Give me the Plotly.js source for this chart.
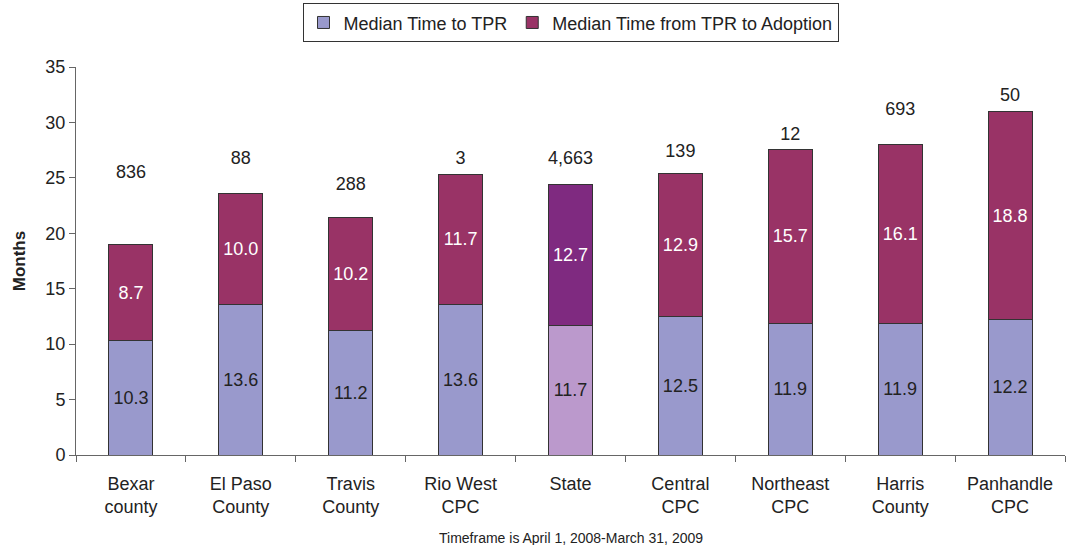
<!DOCTYPE html>
<html><head><meta charset="utf-8">
<script src="https://cdn.plot.ly/plotly-3.0.1.min.js"></script>
<style>body{margin:0;background:#fff}#c{width:1069px;height:545px}</style>
</head><body><div id="c"></div>
<script>
const categories = ["Bexar<br>county","El Paso<br>County","Travis<br>County","Rio West<br>CPC","State","Central<br>CPC","Northeast<br>CPC","Harris<br>County","Panhandle<br>CPC"];
const timeToTPR = [10.3,13.6,11.2,13.6,11.7,12.5,11.9,11.9,12.2];
const tprToAdoption = [8.7,10.0,10.2,11.7,12.7,12.9,15.7,16.1,18.8];
const counts = ["836","88","288","3","4,663","139","12","693","50"];
const countLabelY = [25.4,26.7,24.3,26.7,26.7,27.3,28.8,31.1,32.3];

const blue = "#9999CC", maroon = "#993366", stateLight = "#BB99CC", stateDark = "#7F2A80";
const lowColors = categories.map(c => c === "State" ? stateLight : blue);
const highColors = categories.map(c => c === "State" ? stateDark : maroon);
const font = "Liberation Sans, Arial, sans-serif";

const traces = [
  {type:"bar", name:"Median Time to TPR", x:categories, y:timeToTPR, width:0.4,
   marker:{color:lowColors, line:{color:"#333", width:1}},
   texttemplate:"%{y:.1f}", textposition:"inside", insidetextanchor:"middle",
   textfont:{color:"#222", size:18, family:font}, hoverinfo:"skip"},
  {type:"bar", name:"Median Time from TPR to Adoption", x:categories, y:tprToAdoption, width:0.4,
   marker:{color:highColors, line:{color:"#333", width:1}},
   texttemplate:"%{y:.1f}", textposition:"inside", insidetextanchor:"middle",
   textfont:{color:"#fff", size:18, family:font}, hoverinfo:"skip"},
  {type:"scatter", mode:"text", x:categories, y:countLabelY, text:counts, showlegend:false,
   textfont:{color:"#222", size:18, family:font}, hoverinfo:"skip"}
];

const layout = {
  width:1069, height:545,
  margin:{l:76, r:4, t:67, b:90, autoexpand:false},
  barmode:"stack",
  paper_bgcolor:"#fff", plot_bgcolor:"#fff",
  font:{family:font, color:"#222", size:18},
  showlegend:true,
  legend:{orientation:"h", x:0.5, xanchor:"center", yref:"container", y:0.994, yanchor:"top",
    bordercolor:"#333", borderwidth:1, font:{size:18, family:font}, traceorder:"normal",
    itemwidth:30, tracegroupgap:0},
  xaxis:{type:"category", tickson:"boundaries", ticks:"outside", ticklen:6, tickcolor:"#666",
    showline:true, linecolor:"#666", linewidth:1, showgrid:false, tickfont:{size:18},
    ticklabelstandoff:12},
  yaxis:{range:[0,35], dtick:5, ticks:"outside", ticklen:6, tickcolor:"#666",
    showline:true, linecolor:"#666", linewidth:1, showgrid:false, zeroline:false,
    tickfont:{size:18}, title:{text:"<b>Months</b>", font:{size:17}, standoff:15}},
  annotations:[{text:"Timeframe is April 1, 2008-March 31, 2009", xref:"paper", yref:"paper",
    x:0.5, y:-0.215, xanchor:"center", yanchor:"middle", showarrow:false, font:{size:14}}]
};
Plotly.newPlot("c", traces, layout, {displayModeBar:false, staticPlot:true});
</script></body></html>
